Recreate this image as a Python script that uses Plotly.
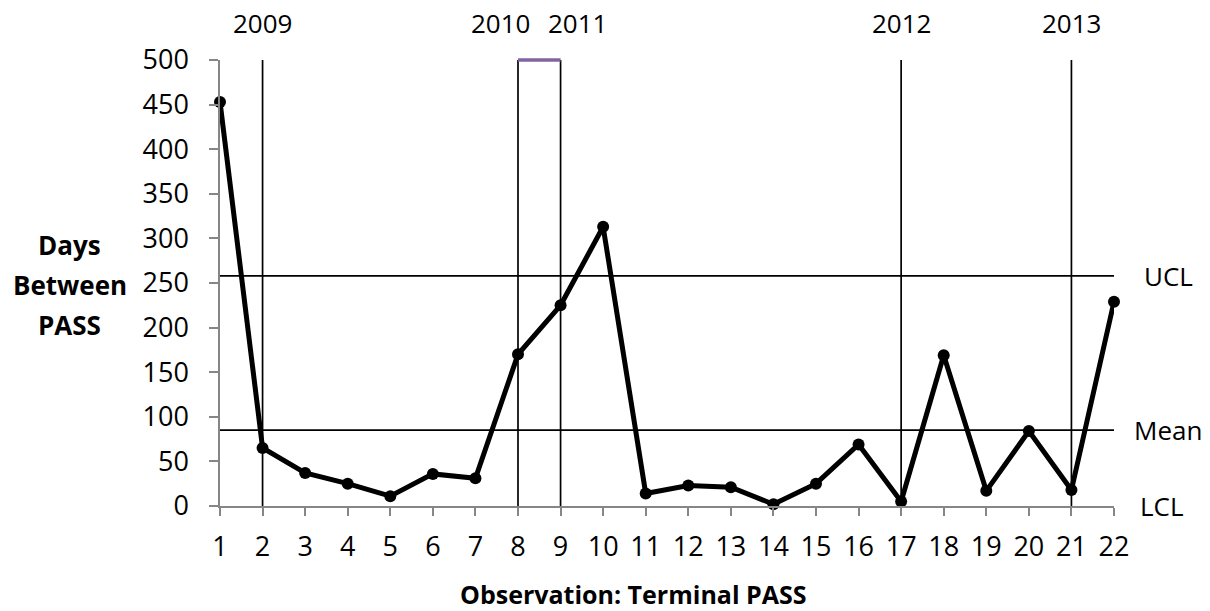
import plotly.graph_objects as go

# observation number and days between PASS
obs = list(range(1, 23))
days = [453, 65, 37, 25, 11, 36, 31, 170, 225, 313, 14, 23, 21, 2, 25, 69, 5, 169, 17, 84, 18, 229]

# control limits
ucl = 258
mean = 85
lcl = 0

# year boundaries (observation where each year starts)
year_labels = ["2009", "2010", "2011", "2012", "2013"]
year_obs = [2, 8, 9, 17, 21]
year_label_x = [2, 7.58, 9.39, 17, 21]

font_main = "'Open Sans', sans-serif"

fig = go.Figure()

# vertical year lines
for xo in year_obs:
    fig.add_shape(type="line", xref="x", yref="y", x0=xo, x1=xo, y0=0, y1=500,
                  line=dict(color="black", width=1.7))

# UCL and mean lines
for yv in [ucl, mean]:
    fig.add_shape(type="line", xref="x", yref="y", x0=1, x1=22, y0=yv, y1=yv,
                  line=dict(color="black", width=1.7))

# purple segment on top between 2010 and 2011 (paper y so it isn't clipped)
fig.add_shape(type="line", xref="x", yref="paper", x0=year_obs[1], x1=year_obs[2], y0=1, y1=1,
              line=dict(color="#8064A2", width=3.5))

fig.add_trace(go.Scatter(
    x=obs, y=days,
    mode="lines+markers",
    line=dict(color="black", width=5),
    marker=dict(color="black", size=12),
    cliponaxis=False,
    showlegend=False,
))

# year labels
for lab, xl in zip(year_labels, year_label_x):
    fig.add_annotation(x=xl, y=1, xref="x", yref="paper", yanchor="middle", yshift=37,
                       text=lab, showarrow=False, font=dict(size=26, color="black", family=font_main))

# limit labels
for lab, yv, xs in [("UCL", ucl, 28), ("Mean", mean, 18), ("LCL", lcl, 24)]:
    fig.add_annotation(x=1, xref="paper", y=yv, yref="y", xanchor="left", xshift=xs,
                       text=lab, showarrow=False, font=dict(size=26, color="black", family=font_main))

# y title, one line per annotation
for line, yv in [("Days", 293), ("Between", 248), ("PASS", 203)]:
    fig.add_annotation(x=-0.168, xref="paper", xanchor="center", y=yv, yref="y",
                       text="<b>" + line + "</b>",
                       showarrow=False, font=dict(size=26, color="black", family=font_main))

# x title
fig.add_annotation(x=0.463, xref="paper", xanchor="center", y=0, yref="paper", yanchor="middle",
                   yshift=-88, text="<b>Observation: Terminal PASS</b>", showarrow=False,
                   font=dict(size=25, color="black", family=font_main))

fig.update_layout(
    width=1210, height=611,
    margin=dict(l=212, r=104, t=52, b=113),
    plot_bgcolor="white", paper_bgcolor="white",
    font=dict(family=font_main, size=27, color="black"),
    xaxis=dict(
        range=[1, 22], tickmode="array", tickvals=obs, ticktext=[str(o) for o in obs],
        showgrid=False, zeroline=False, showline=True, linecolor="#868686", linewidth=1.5,
        ticks="outside", ticklen=8, tickcolor="#868686", tickwidth=1.5, ticklabelstandoff=8,
    ),
    yaxis=dict(
        range=[0, 500], tickvals=list(range(0, 501, 50)),
        showgrid=False, zeroline=False, showline=True, linecolor="#868686", linewidth=1.5,
        ticks="outside", ticklen=9, tickcolor="#868686", tickwidth=1.5, ticklabelstandoff=15,
    ),
)

fig.write_html("out.html")
